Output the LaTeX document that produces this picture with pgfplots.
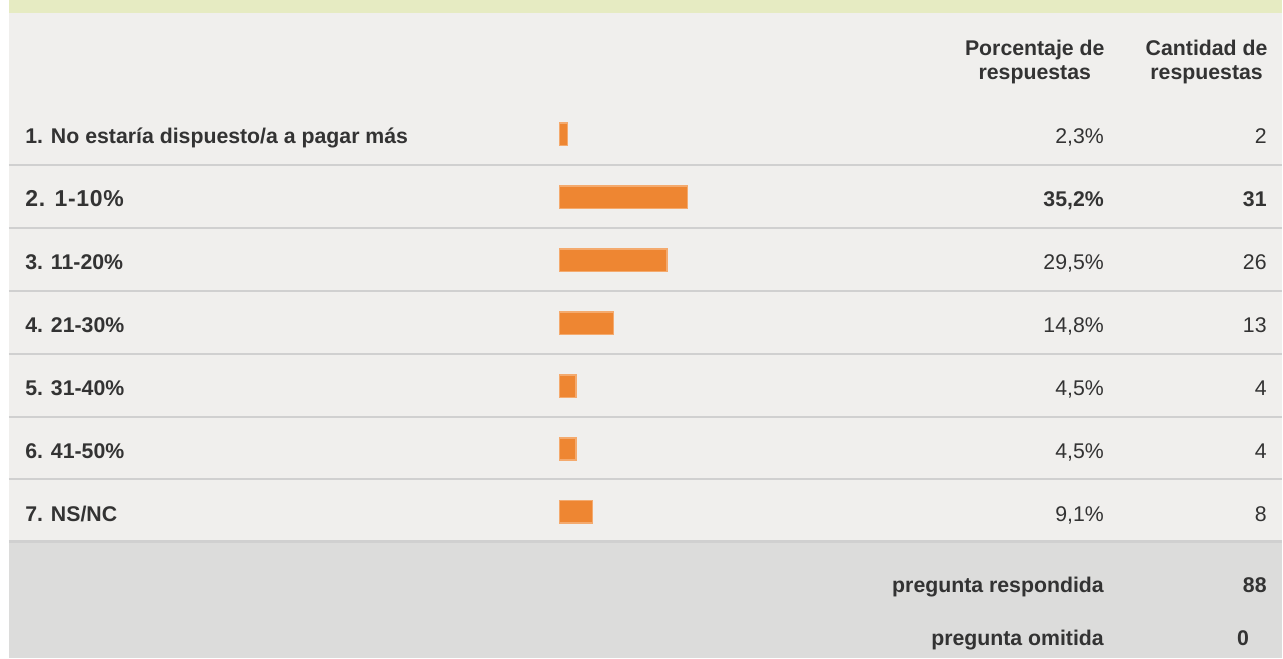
\documentclass[border=0pt]{standalone}
\usepackage{pgfplots}
\pgfplotsset{compat=1.18}
\usepackage{fontspec}
\setmainfont{Liberation Sans}
\definecolor{bgc}{RGB}{240,239,237}
\definecolor{greenc}{RGB}{230,235,194}
\definecolor{footc}{RGB}{220,220,219}
\definecolor{linec}{RGB}{208,208,208}
\definecolor{barc}{RGB}{238,134,50}
\definecolor{barb}{RGB}{244,170,110}
\definecolor{txt}{RGB}{51,51,51}
\newcommand{\fs}{\fontsize{10.65}{12}\selectfont}
\begin{document}
\begin{tikzpicture}
\begin{scope}[x=0.5pt,y=-0.5pt]
\fill[white] (0,0) rectangle (1283,659);
\fill[bgc] (9,13) rectangle (1283,542);
\fill[greenc] (9,0) rectangle (1283,13);
\fill[footc] (9,542) rectangle (1283,659);
\foreach \y in {165,228,291,354,417,480} \draw[linec, line width=1pt] (9,\y) -- (1283,\y);
\draw[linec, line width=1.5pt] (9,542) -- (1283,542);
\begin{scope}[every node/.style={inner sep=0pt, text=txt, font=\fs\bfseries}]
\node[anchor=base] at (1036,56) {Porcentaje de};
\node[anchor=base] at (1036,80) {respuestas};
\node[anchor=base] at (1208,56) {Cantidad de};
\node[anchor=base] at (1208,80) {respuestas};
\node[anchor=base west] at (25,144) {1. No estaría dispuesto/a a pagar más};
\node[anchor=base west, font=\fontsize{11.5}{13}\selectfont\bfseries\addfontfeature{LetterSpace=3}] at (25,207) {2. 1-10\%};
\node[anchor=base west] at (25,270) {3. 11-20\%};
\node[anchor=base west] at (25,333) {4. 21-30\%};
\node[anchor=base west] at (25,396) {5. 31-40\%};
\node[anchor=base west] at (25,459) {6. 41-50\%};
\node[anchor=base west] at (25,522) {7. NS/NC};
\node[anchor=base east, font=\fs] at (1105.5,144) {2,3\%};
\node[anchor=base east] at (1105.5,207) {35,2\%};
\node[anchor=base east, font=\fs] at (1105.5,270) {29,5\%};
\node[anchor=base east, font=\fs] at (1105.5,333) {14,8\%};
\node[anchor=base east, font=\fs] at (1105.5,396) {4,5\%};
\node[anchor=base east, font=\fs] at (1105.5,459) {4,5\%};
\node[anchor=base east, font=\fs] at (1105.5,522) {9,1\%};
\node[anchor=base east, font=\fs] at (1268.5,144) {2};
\node[anchor=base east] at (1268.5,207) {31};
\node[anchor=base east, font=\fs] at (1268.5,270) {26};
\node[anchor=base east, font=\fs] at (1268.5,333) {13};
\node[anchor=base east, font=\fs] at (1268.5,396) {4};
\node[anchor=base east, font=\fs] at (1268.5,459) {4};
\node[anchor=base east, font=\fs] at (1268.5,522) {8};
\node[anchor=base east] at (1105.5,593) {pregunta respondida};
\node[anchor=base east] at (1268.5,593) {88};
\node[anchor=base east] at (1105.5,646) {pregunta omitida};
\node[anchor=base] at (1244.5,646) {0};
\end{scope}
\end{scope}
\begin{axis}[at={(0,0)}, anchor=north west, scale only axis,
  width=641.5pt, height=329.5pt,
  xmin=-153.42, xmax=198.08, ymin=0, ymax=659, y dir=reverse,
  hide axis, clip=false, xbar, bar width=22.5]
\addplot[fill=barc, draw=barb, line width=0.75pt] coordinates {
(2.3,134.5) (35.2,197.5) (29.5,260.5) (14.8,323.5) (4.5,386.5) (4.5,449.5) (9.1,512.5)};
\end{axis}
\end{tikzpicture}
\end{document}
